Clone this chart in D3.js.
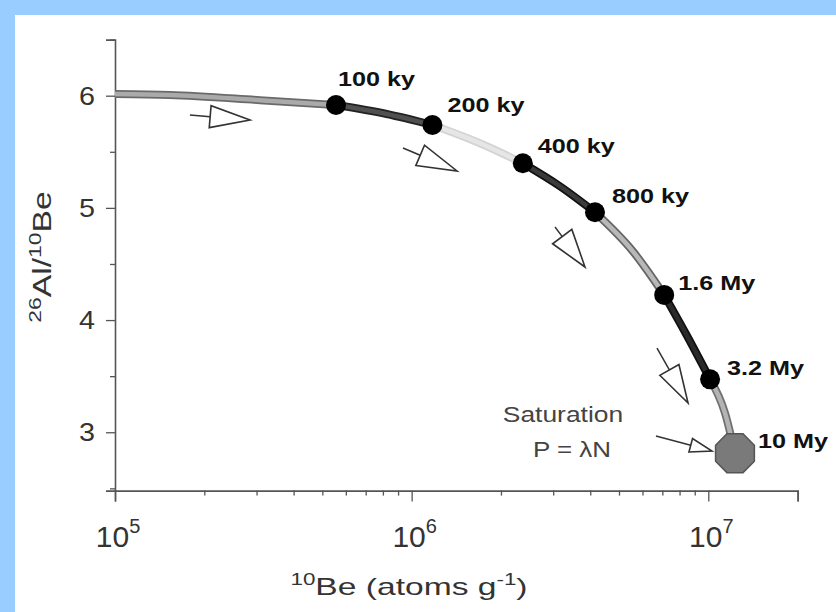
<!DOCTYPE html>
<html><head><meta charset="utf-8">
<script src="https://cdn.jsdelivr.net/npm/d3@7"></script>
<style>body{margin:0;background:#fff}svg{display:block}</style>
</head><body><svg id="c" width="836" height="612"></svg>
<script>
// ---- data ----
const curveBe    = [1e5, 1.53e5, 3.08e5, 5.56e5, 8.24e5, 1.175e6, 1.70e6, 2.37e6, 3.16e6, 4.15e6, 5.58e6, 7.10e6, 8.45e6, 1.014e7, 1.138e7, 1.23e7];
const curveRatio = [6.015, 6.006, 5.96, 5.917, 5.837, 5.739, 5.576, 5.398, 5.193, 4.961, 4.610, 4.224, 3.867, 3.472, 3.172, 2.813];
const ageLabels  = ["100 ky", "200 ky", "400 ky", "800 ky", "1.6 My", "3.2 My", "10 My"];
const ageBe      = [5.56e5, 1.175e6, 2.37e6, 4.15e6, 7.10e6, 1.014e7, 1.23e7];
const ageRatio   = [5.917, 5.739, 5.398, 4.961, 4.224, 3.472, 2.813];
const xTicks     = [1e5, 1e6, 1e7];
const xTickExp   = ["5", "6", "7"];
const xMinor     = [2e5,3e5,4e5,5e5,6e5,7e5,8e5,9e5,2e6,3e6,4e6,5e6,6e6,7e6,8e6,9e6];
const xEnd       = [2e7];
const yTicks     = [3, 4, 5, 6];
const yMinor     = [2.5, 3.5, 4.5, 5.5, 6.5];
const arrowTailBe    = [1.789e5, 9.35e5, 3.043e6, 6.715e6, 6.66e6];
const arrowTailRatio = [5.828, 5.534, 4.830, 3.751, 2.967];
const arrowTipBe     = [2.852e5, 1.422e6, 3.84e6, 8.545e6, 1.029e7];
const arrowTipRatio  = [5.783, 5.329, 4.473, 3.261, 2.833];

// ---- styles ----
const FONT = "'Liberation Sans', Arial, Helvetica, sans-serif";
const segStyles = [
  {edge:"#6a6a6a", fill:"#aaaaaa"},
  {edge:"#222222", fill:"#505050"},
  {edge:"#d4d4d4", fill:"#e6e6e6"},
  {edge:"#111111", fill:"#3a3a3a"},
  {edge:"#666666", fill:"#b8b8b8"},
  {edge:"#111111", fill:"#2a2a2a"},
  {edge:"#707070", fill:"#b4b4b4"}
];
const labelDx = [2, 15, 15, 17, 14, 17, 23];
const labelDy = [-19, -13, -10, -9, -5, -4, -5];
const arrowLen = [40, 40, 38, 38, 22];
const arrowHalf = [11, 11, 12, 11, 7];

const svg = d3.select("#c");
svg.append("rect").attr("width", 836).attr("height", 612).attr("fill", "#99ccff");
svg.append("rect").attr("x", 15).attr("y", 15).attr("width", 821).attr("height", 597).attr("fill", "#ffffff");

const x = d3.scaleLog().domain([1e5, 2e7]).range([115, 797.6]);
const y = d3.scaleLinear().domain([2.48, 6.5]).range([490.6, 39.6]);

function txt(g, px, py, sx, anchor, size, weight, fill) {
  return g.append("text")
    .attr("transform", `translate(${px},${py}) scale(${sx},1)`)
    .attr("text-anchor", anchor)
    .attr("font-family", FONT)
    .attr("font-size", size)
    .attr("font-weight", weight)
    .attr("fill", fill);
}

// ---- axes ----
const axisColor = "#555";
const gx = svg.append("g").attr("transform", `translate(0,${y.range()[0]})`);
gx.call(d3.axisBottom(x).tickValues(xTicks.concat(xEnd)).tickSize(11).tickFormat(""));
gx.append("g").call(d3.axisBottom(x).tickValues(xMinor).tickSize(5).tickFormat(""))
  .select(".domain").remove();
const gy = svg.append("g").attr("transform", `translate(${x.range()[0]},0)`);
gy.call(d3.axisLeft(y).tickValues(yTicks).tickSize(9).tickFormat(""));
gy.append("g").call(d3.axisLeft(y).tickValues(yMinor).tickSize(5).tickFormat(""))
  .select(".domain").remove();
svg.selectAll(".domain").attr("stroke", axisColor).attr("stroke-width", 1.6);
svg.selectAll(".tick line").attr("stroke", axisColor).attr("stroke-width", 1.3);

// tick labels
yTicks.forEach(v => {
  txt(svg, 95, y(v) + 9, 1.15, "end", 25, "normal", "#333").text(v);
});
xTicks.forEach((v, i) => {
  const t = txt(svg, x(v) + 3, 547, 1.0, "middle", 30, "normal", "#333");
  t.append("tspan").text("10");
  t.append("tspan").attr("font-size", 20).attr("dy", -14).text(xTickExp[i]);
});

// axis titles
const xt = txt(svg, 409, 595, 1.4, "middle", 24, "normal", "#333");
xt.append("tspan").attr("font-size", 16).attr("dy", -10).text("10");
xt.append("tspan").attr("dy", 10).text("Be (atoms g");
xt.append("tspan").attr("font-size", 16).attr("dy", -10).text("-1");
xt.append("tspan").attr("dy", 10).text(")");

const yt = svg.append("text")
  .attr("transform", "translate(51,257) rotate(-90) scale(1.35,1)")
  .attr("text-anchor", "middle").attr("font-family", FONT).attr("font-size", 25).attr("fill", "#333");
yt.append("tspan").attr("font-size", 17).attr("dy", -10).text("26");
yt.append("tspan").attr("dy", 10).text("Al/");
yt.append("tspan").attr("font-size", 17).attr("dy", -10).text("10");
yt.append("tspan").attr("dy", 10).text("Be");

// ---- curve segments ----
const pts = curveBe.map((b, i) => [b, curveRatio[i]]);
const breaks = [0].concat(ageBe.map(b => curveBe.indexOf(b)));
const line = d3.line().x(d => x(d[0])).y(d => y(d[1])).curve(d3.curveMonotoneX);
const gc = svg.append("g");
for (let s = 0; s < breaks.length - 1; s++) {
  const seg = pts.slice(breaks[s], breaks[s + 1] + 1);
  const st = segStyles[s];
  gc.append("path").attr("d", line(seg)).attr("fill", "none")
    .attr("stroke", st.edge).attr("stroke-width", 8).attr("stroke-linecap", "butt");
  gc.append("path").attr("d", line(seg)).attr("fill", "none")
    .attr("stroke", st.fill).attr("stroke-width", 4.5).attr("stroke-linecap", "butt");
}

// ---- arrows ----
const ga = svg.append("g");
arrowTailBe.forEach((b, i) => {
  const tx = x(b), ty = y(arrowTailRatio[i]);
  const px = x(arrowTipBe[i]), py = y(arrowTipRatio[i]);
  const dx = px - tx, dy = py - ty, len = Math.hypot(dx, dy);
  const ux = dx / len, uy = dy / len, nx = -uy, ny = ux;
  const bx = px - ux * arrowLen[i], by = py - uy * arrowLen[i];
  const h = arrowHalf[i];
  ga.append("line").attr("x1", tx).attr("y1", ty).attr("x2", bx).attr("y2", by)
    .attr("stroke", "#333").attr("stroke-width", 1.5);
  ga.append("path")
    .attr("d", `M${bx + nx * h},${by + ny * h}L${px},${py}L${bx - nx * h},${by - ny * h}Z`)
    .attr("fill", "#fff").attr("stroke", "#333").attr("stroke-width", 1.6).attr("stroke-linejoin", "miter");
});

// ---- age markers ----
const last = ageBe.length - 1;
const gm = svg.append("g");
ageBe.slice(0, last).forEach((b, i) => {
  gm.append("circle").attr("cx", x(b)).attr("cy", y(ageRatio[i])).attr("r", 10).attr("fill", "#000");
});
const ox = x(ageBe[last]), oy = y(ageRatio[last]);
const oct = d3.range(8).map(k => {
  const a = Math.PI / 8 + k * Math.PI / 4;
  return [ox + 21 * Math.cos(a), oy + 21 * Math.sin(a)];
});
gm.append("path").attr("d", "M" + oct.join("L") + "Z")
  .attr("fill", "#7a7a7a").attr("stroke", "#555").attr("stroke-width", 1.5);

// labels
ageLabels.forEach((l, i) => {
  txt(svg, x(ageBe[i]) + labelDx[i], y(ageRatio[i]) + labelDy[i], 1.2, "start", 21, "bold", "#111").text(l);
});

// saturation note
txt(svg, ox - 172, oy - 31, 1.2, "middle", 22, "normal", "#444").text("Saturation");
txt(svg, ox - 163, oy + 4, 1.18, "middle", 22, "normal", "#444").text("P = λN");
</script>
</body></html>
